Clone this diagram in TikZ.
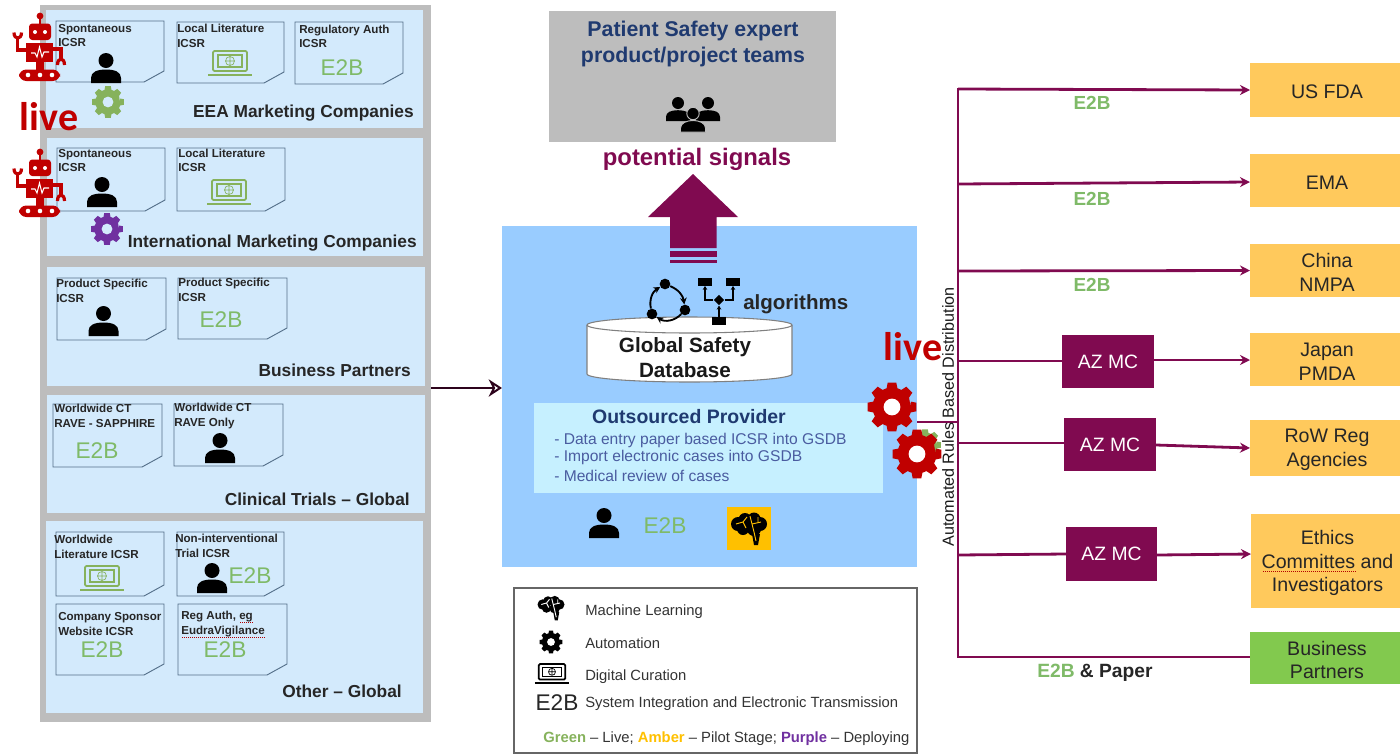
\documentclass[tikz,border=0pt]{standalone}
\usepackage{fontspec}
\setmainfont{Liberation Sans}
\newfontfamily\carl{Carlito}
\usetikzlibrary{arrows.meta,shapes.geometric}
\definecolor{panelblue}{HTML}{D3EAFC}
\definecolor{outergray}{HTML}{BDBDBD}
\definecolor{midblue}{HTML}{99CCFF}
\definecolor{paleblue}{HTML}{C6F0FF}
\definecolor{maroon}{HTML}{800A50}
\definecolor{amberbox}{HTML}{FFC95C}
\definecolor{greenbox}{HTML}{82C94E}
\definecolor{etwob}{HTML}{7FBA68}
\definecolor{slate}{HTML}{55708A}
\definecolor{dkred}{HTML}{C00000}
\definecolor{navy}{HTML}{1F3A70}
\definecolor{listblue}{HTML}{4A5CA0}
\definecolor{gearpurple}{HTML}{7030A0}
\definecolor{amber}{HTML}{FFC000}
\definecolor{lapgreen}{HTML}{86B25C}
\newcommand{\fs}[1]{\fontsize{#1}{#1}\selectfont}
% px box: name,x1,y1,x2,y2,style,text
\newcommand{\pxbox}[7]{%
  \pgfmathsetmacro\pxcx{(#2+#4)/2}\pgfmathsetmacro\pxcy{(#3+#5)/2}%
  \pgfmathsetmacro\pxw{(#4-#2)*0.75}\pgfmathsetmacro\pxh{(#5-#3)*0.75}%
  \node[#6,inner sep=0pt,outer sep=0pt,minimum width=\pxw pt,minimum height=\pxh pt] (#1) at (\pxcx,\pxcy) {#7};}
% recipient box with its text: name,x1,y1,x2,y2,fill,text
\newcommand{\destbox}[7]{%
  \pxbox{#1}{#2}{#3}{#4}{#5}{fill=#6}{}
  \node[desttext] (#1t) at ([yshift=-1.5pt]#1.center) {#7};}
% document: name,x1,y1,x2,y2,textx,texty(mid),text
\newcommand{\docicon}[8]{%
  \pgfmathsetmacro\dxa{#4-20}\pgfmathsetmacro\dya{#5-11}%
  \draw[docline] (#2,#3) -- (#4,#3) -- (#4,\dya) -- (\dxa,#5) -- (#2,#5) -- cycle;
  \node[doctext] (#1) at (#6,#7) {#8};}
\tikzset{
  docline/.style={draw=slate,line width=.7pt},
  doctext/.style={anchor=west,align=left,inner sep=0pt,font=\bfseries\fontsize{8.7}{10.9}\selectfont,text=black!85},
  sectitle/.style={anchor=east,inner sep=0pt,font=\bfseries\fs{13},text=black!85},
  etext/.style={inner sep=0pt,font=\fs{17},text=etwob},
  elabel/.style={inner sep=0pt,font=\bfseries\fs{14.2},text=etwob},
  desttext/.style={inner sep=0pt,align=center,font=\fontsize{14.7}{17.8}\selectfont,text=black!85},
  azstyle/.style={fill=maroon,font=\fs{14.5},text=white},
  conn/.style={draw=maroon,line width=2.1pt},
  connarrow/.style={conn,-{Stealth[length=7.5pt,width=7.5pt]}},
  livetext/.style={inner sep=0pt,font=\carl\bfseries\fs{30},text=dkred},
  legtext/.style={anchor=west,inner sep=0pt,font=\fs{11.1},text=black!80},
  squig/.style={draw=red!70!black,line width=.5pt,densely dotted},
  pics/person/.style={code={
    \fill (0,7.5) circle (7.5);
    \fill (-15,30) -- (-15,25) .. controls (-15,19) and (-9,16.5) .. (0,16.5) .. controls (9,16.5) and (15,19) .. (15,25) -- (15,30) -- cycle;
  }},
  pics/gearicon/.style={code={
    \fill[line join=round]
      (0:12) \foreach \a in {0,45,...,315}{
        -- ({\a-16}:12.6) -- ({\a-10}:16) -- ({\a+10}:16) -- ({\a+16}:12.6) } -- cycle;
    \fill[#1] (0,0) circle (5.4);
  }},
  pics/laptop/.style={code={
    \draw[line width=1.3pt,rounded corners=1pt] (-17,0) rectangle (17,20);
    \draw[line width=.8pt] (-12,4) rectangle (12,16);
    \draw[line width=.5pt] (0,10) circle (4.5) (-4.5,10) -- (4.5,10) (0,5.5) -- (0,14.5);
    \draw[line width=1.6pt] (-22,24) -- (22,24);
  }},
  pics/brain/.style={code={
    \fill (-11,-2) circle (7) (-4,-6.5) circle (6.5) (5,-7) circle (6.5) (11,-2) circle (7)
          (5,3) circle (7) (-6,3) circle (6);
    \fill (3,8) -- (11,8) -- (9,19) -- (5,19) -- cycle;
    \draw[line width=.7pt,#1] (-13,-2) -- (-6,-4) -- (-2,-9) (-6,-4) -- (-3,2) (1,-10) -- (3,-2) -- (12,-4) (3,-2) -- (5,6) -- (7,15) (9,-9) -- (9,-3);
  }},
  pics/robot/.style={code={
    \draw[line width=1.5pt,dkred] (40,16) -- (40,25);
    \fill[dkred] (40,16) circle (3.4);
    \fill[dkred,rounded corners=2.5pt] (29,23.5) rectangle (51,40);
    \fill[white] (35,32) circle (2) (45,32) circle (2);
    \fill[dkred] (26,43) rectangle (53,62);
    \draw[white,line width=.8pt] (31,53) -- (35,53) -- (37,57) -- (39.5,47) -- (42,57) -- (44,52) -- (49,52);
    \draw[dkred,line width=2.6pt] (26,50) -- (17.5,50) -- (17.5,38);
    \draw[dkred,line width=2.4pt] (14,32.5) .. controls (14,40) and (21.5,40) .. (21.5,32.5);
    \draw[dkred,line width=2.6pt] (53,49) -- (61,49) -- (61,58);
    \draw[dkred,line width=2.4pt] (57.5,65) .. controls (57.5,57) and (64.5,57) .. (64.5,65);
    \fill[dkred] (36,62) rectangle (44,70);
    \fill[dkred,rounded corners=5.5pt] (19,69.5) rectangle (60,81);
    \fill[white] (28,75) circle (2.3) (40,75) circle (2.3) (52,75) circle (2.3);
  }},
}
\begin{document}
\begin{tikzpicture}[x=0.75pt,y=-0.75pt]
\useasboundingbox (0,0) rectangle (1400,754);
% left column
\pxbox{outer}{40}{5}{431}{722}{fill=outergray}{}
\pxbox{p1}{46}{10}{423}{128}{fill=panelblue}{}
\pxbox{p2}{47}{138}{423}{256}{fill=panelblue}{}
\pxbox{p3}{47}{267}{425}{386}{fill=panelblue}{}
\pxbox{p4}{47}{395}{425}{513}{fill=panelblue}{}
\pxbox{p5}{46}{521}{423}{713}{fill=panelblue}{}
\docicon{d1}{56}{21}{164}{82}{58}{35.5}{Spontaneous\\ICSR}
\docicon{d2}{177}{22}{284}{83}{177}{36}{Local Literature\\ICSR}
\docicon{d3}{295}{22}{403}{84}{299}{36.5}{Regulatory Auth\\ICSR}
\docicon{d4}{57}{148}{165}{211}{58}{160.5}{Spontaneous\\ICSR}
\docicon{d5}{177}{148}{285}{211}{178}{160.5}{Local Literature\\ICSR}
\docicon{d6}{57}{278}{166}{340}{56}{291}{Product Specific\\ICSR}
\docicon{d7}{178}{278}{287}{339}{178}{290}{Product Specific\\ICSR}
\docicon{d8}{53}{404}{162}{467}{54}{416}{Worldwide CT\\RAVE - SAPPHIRE}
\docicon{d9}{174}{404}{283}{466}{174}{416}{Worldwide CT\\RAVE Only}
\docicon{d10}{56}{532}{164}{596}{54}{547}{Worldwide\\Literature ICSR}
\docicon{d11}{177}{532}{284}{596}{175}{546}{Non-interventional\\Trial ICSR}
\docicon{d12}{56}{604}{164}{675}{58}{624}{Company Sponsor\\Website ICSR}
\docicon{d13}{178}{604}{287}{675}{181}{624}{Reg Auth, eg\\EudraVigilance}
\draw[squig] (240,622) -- (254,622);
\draw[squig] (182,637) -- (265,637);
\pic[black] at (106,53) {person};
\pic[black] at (102,177) {person};
\pic[black] at (103.5,306) {person};
\pic[black] at (220,433) {person};
\pic[black] at (212,563) {person};
\pic[lapgreen] at (230,51) {laptop};
\pic[lapgreen] at (229,180) {laptop};
\pic[lapgreen] at (102,566) {laptop};
\node[etext] (e3) at (342,68) {E2B};
\node[etext] (e7) at (221,320) {E2B};
\node[etext] (e8) at (97,451) {E2B};
\node[etext] (e11) at (250,576) {E2B};
\node[etext] (e12) at (102,650) {E2B};
\node[etext] (e13) at (225,650) {E2B};
\pic[lapgreen] at (108,102) {gearicon={panelblue}};
\pic[gearpurple] at (107,229) {gearicon={panelblue}};
\node[sectitle] (s1) at (414,113.5) {EEA Marketing Companies};
\node[sectitle] (s2) at (417,243.5) {International Marketing Companies};
\node[sectitle] (s3) at (411,370) {Business Partners};
\node[sectitle] (s4) at (410,499) {Clinical Trials -- Global};
\node[sectitle] (s5) at (402,691) {Other -- Global};
\pic at (0,0) {robot};
\pic at (0,136) {robot};
\node[livetext] (live1) at (49,117) {live};
% top grey box
\pxbox{team}{549}{11}{836}{142}{fill=outergray}{}
\node[inner sep=0pt,align=center,font=\bfseries\fontsize{16}{19.6}\selectfont,text=navy] (teamt) at (693,44) {Patient Safety expert\\product/project teams};
\pic[black,scale=.8] at (678,97) {person};
\pic[black,scale=.8] at (708,97) {person};
\draw[outergray,line width=.7pt,fill=black] (693,113.5) circle (6.2);
\fill[black,draw=outergray,line width=.7pt] (680.5,132) -- (680.5,128) .. controls (680.5,123) and (687,120.5) .. (693,120.5) .. controls (699,120.5) and (705.5,123) .. (705.5,128) -- (705.5,132) -- cycle;
\node[inner sep=0pt,font=\bfseries\fs{17.9},text=maroon] (sig) at (697,159) {potential signals};
% central
\pxbox{central}{502}{226}{917}{567}{fill=midblue}{}
\fill[maroon] (693,174) -- (738,217) -- (716.5,217) -- (716.5,248) -- (670,248) -- (670,217) -- (648,217) -- cycle;
\fill[maroon] (670,251) rectangle (716.5,257);
\fill[maroon] (670,260) rectangle (716.5,262.5);
\draw[fill=white,draw=gray,line width=.8pt] (587,374) arc (180:0:102.5 and 8) -- (792,325) arc (0:-180:102.5 and 8) -- cycle;
\draw[gray,line width=.8pt] (587,325) arc (180:0:102.5 and 8);
\node[inner sep=0pt,align=center,font=\bfseries\fontsize{15.5}{18.6}\selectfont,text=black!90] (gsdb) at (685,358) {Global Safety\\Database};
% algorithm icons
\tikzset{dot/.style={circle,fill=black,inner sep=0pt,minimum size=8pt},
  trect/.style={fill=black,inner sep=0pt,minimum width=10.5pt,minimum height=5.5pt},
  cyc/.style={draw=black,line width=1.4pt,-{Stealth[length=5pt,width=5pt]}},
  tre/.style={draw=black,line width=1pt,-{Stealth[length=3pt,width=3.5pt]}}}
\node[dot] (c1) at (665,284) {};
\node[dot] (c2) at (685,310) {};
\node[dot] (c3) at (652,314) {};
\draw[cyc] (c1) to[bend left=30] (c2);
\draw[cyc] (c2) to[bend left=40] (c3);
\draw[cyc] (c3) to[bend left=35] (c1);
\node[trect] (t1) at (705,282) {};
\node[trect] (t2) at (733,282) {};
\node[diamond,fill=black,inner sep=0pt,minimum size=8pt] (td) at (719,300) {};
\node[trect] (t3) at (719,321) {};
\draw[tre] (t3) -- (td);
\draw[tre] (td) -| (t1);
\draw[tre] (td) -| (t2);
\node[anchor=west,inner sep=0pt,font=\bfseries\fs{15.4},text=black!85] (alg) at (743,304) {algorithms};
% outsourced
\pxbox{out}{534}{403}{883}{493}{fill=paleblue}{}
\node[inner sep=0pt,font=\bfseries\fs{14.6},text=navy] (outt) at (689,417) {Outsourced Provider};
\node[anchor=west,inner sep=0pt,font=\fs{11.7},text=listblue] (l1) at (554,440.5) {- Data entry paper based ICSR into GSDB};
\node[anchor=west,inner sep=0pt,font=\fs{11.7},text=listblue] (l2) at (554,457.5) {- Import electronic cases into GSDB};
\node[anchor=west,inner sep=0pt,font=\fs{11.7},text=listblue] (l3) at (554,475.5) {- Medical review of cases};
\pic[black] at (604,508) {person};
\node[etext] (e14) at (665,526) {E2B};
\pxbox{brainbox}{727}{507}{771}{550}{fill=amber}{}
\pic[black] at (749,526) {brain={amber}};
% left connector
\draw[draw=black!65!maroon,line width=1.9pt,-{Stealth[length=10pt,width=13pt,line width=1.5pt,fill=white]}] (outer.east |- 0,388) -- (central.west |- 0,388);
% right boxes
\destbox{fda}{1250}{63}{1404}{117}{amberbox}{US FDA}
\destbox{ema}{1250}{154}{1404}{207}{amberbox}{EMA}
\destbox{nmpa}{1250}{244}{1404}{297}{amberbox}{China\\NMPA}
\destbox{pmda}{1250}{333}{1404}{386}{amberbox}{Japan\\PMDA}
\destbox{row}{1250}{420}{1404}{476}{amberbox}{RoW Reg\\Agencies}
\destbox{eth}{1251}{514}{1404}{608}{amberbox}{Ethics\\Committes and\\Investigators}
\destbox{bp}{1250}{632}{1404}{684}{greenbox}{Business\\Partners}
\draw[squig] (1263,571) -- (1357,571);
\pxbox{az1}{1062}{335}{1154}{388}{azstyle}{AZ MC}
\pxbox{az2}{1064}{418}{1156}{471}{azstyle}{AZ MC}
\pxbox{az3}{1066}{527}{1157}{581}{azstyle}{AZ MC}
\coordinate (tt) at (958,89);
\coordinate (tb) at (958,657);
\coordinate (tg) at (917,422);
\draw[conn,line cap=rect] (tt) -- (tb);
\draw[conn] (tg) -- (958,422);
\coordinate (b2) at (958,184);
\coordinate (b3) at (958,271);
\coordinate (b4) at (958,361);
\coordinate (b5) at (958,443);
\coordinate (b6) at (958,555);
\draw[connarrow] (tt) -- (fda.west |- 0,90);
\draw[connarrow] (b2) -- (ema.west |- 0,182);
\draw[connarrow] (b3) -- (nmpa.west);
\draw[conn] (b4) -- (az1.west |- 0,361);
\draw[connarrow] (az1.east |- 0,360) -- (pmda.west |- 0,360);
\draw[conn] (b5) -- (az2.west |- 0,443);
\draw[connarrow] (az2.east |- 0,445) -- (row.west |- 0,448);
\draw[conn] (b6) -- (az3.west |- 0,554);
\draw[connarrow] (az3.east |- 0,555) -- (eth.west |- 0,554);
\draw[conn] (tb) -- (bp.west |- 0,657);
\node[elabel] (x1) at (1092,102.5) {E2B};
\node[elabel] (x2) at (1092,198.5) {E2B};
\node[elabel] (x3) at (1092,284.5) {E2B};
\node[anchor=west,inner sep=0pt,font=\bfseries\fs{14.4},text=black!85] (x4) at (1037,673) {\textcolor{etwob}{E2B} \& Paper};
% gears + live
\pic[lapgreen] at (925,445) {gearicon={lapgreen}};
\pic[dkred,scale=1.55] at (892,407) {gearicon={white}};
\pic[dkred,scale=1.55] at (917,454) {gearicon={white}};
\node[livetext] (live2) at (913,347) {live};
\node[rotate=90,inner sep=0pt,font=\fs{12.1},text=black!90] (auto) at (948,417) {Automated Rules Based Distribution};
% legend
\pxbox{leg}{514}{588}{917}{753}{draw=black!60,line width=.8pt}{}
\pic[black,scale=.75] at (551,606) {brain={white}};
\pic[black,scale=.72] at (551,642) {gearicon={white}};
\pic[black,scale=.78] at (552,664) {laptop};
\node[legtext] (m1) at (585,612) {Machine Learning};
\node[legtext] (m2) at (585,643) {Automation};
\node[legtext] (m3) at (585,677) {Digital Curation};
\node[inner sep=0pt,font=\fs{17},text=black!85] (m4) at (557,703) {E2B};
\node[legtext] (m5) at (585,704) {System Integration and Electronic Transmission};
\node[legtext] (m6) at (543,739) {\textcolor{lapgreen}{\bfseries Green} -- Live; \textcolor{amber}{\bfseries Amber} -- Pilot Stage; \textcolor{gearpurple}{\bfseries Purple} -- Deploying};
\end{tikzpicture}
\end{document}
